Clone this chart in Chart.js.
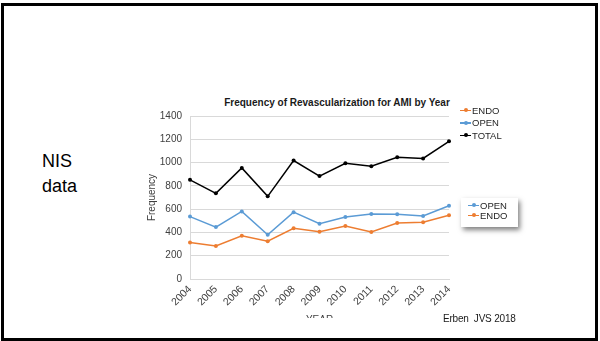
<!DOCTYPE html>
<html><head><meta charset="utf-8">
<script src="https://cdn.jsdelivr.net/npm/chart.js@4"></script>
<style>
html,body{margin:0;padding:0;background:#fff;width:600px;height:341px;overflow:hidden;font-family:"Liberation Sans",Arial,sans-serif;}
#frame{position:absolute;left:1px;top:3px;width:597px;height:338px;border:3px solid #000;box-sizing:border-box;}
#nis{position:absolute;left:42px;top:149px;font-size:18px;line-height:25px;color:#000;}
#title{position:absolute;left:187px;width:300px;top:97px;text-align:center;font-weight:bold;font-size:10px;color:#1a1a1a;white-space:nowrap;}
#wrap{position:absolute;left:100px;top:90px;width:380px;height:228px;overflow:hidden;}
#legend1{position:absolute;left:460px;top:105px;font-size:9.5px;line-height:12.4px;color:#262626;}
#legend2{position:absolute;left:461px;top:198px;width:57px;height:29px;box-sizing:border-box;padding:3px 0 0 7px;background:#fff;box-shadow:2px 3px 5px rgba(0,0,0,0.5);font-size:9.5px;line-height:10px;color:#262626;}
.it{white-space:nowrap;}
.mk{display:inline-block;width:11px;height:1.5px;background:var(--c);vertical-align:middle;position:relative;margin-right:1px;top:-1px;}
.mk::after{content:"";position:absolute;left:3.5px;top:-1.25px;width:4px;height:4px;border-radius:50%;background:var(--c);}
#cite{position:absolute;left:443px;top:313px;font-size:10px;color:#1a1a1a;letter-spacing:-0.2px;white-space:nowrap;}
</style></head>
<body>
<div id="frame"></div>
<div id="nis">NIS<br>data</div>
<div id="title">Frequency of Revascularization for AMI by Year</div>
<div id="wrap"><canvas id="c" width="380" height="250"></canvas></div>
<div id="legend1"></div>
<div id="legend2"></div>
<div id="cite">Erben&nbsp; JVS 2018</div>
<script>
const years = ['2004','2005','2006','2007','2008','2009','2010','2011','2012','2013','2014'];
const endo  = [313, 284, 371, 325, 435, 406, 455, 403, 481, 487, 548];
const open  = [536, 446, 580, 380, 574, 475, 533, 559, 557, 542, 629];
const total = [852, 736, 954, 710, 1017, 884, 994, 968, 1046, 1035, 1183];
const seriesNames = ['ENDO', 'OPEN', 'TOTAL'];
const seriesColors = ['#ED7D31', '#5B9BD5', '#000000'];
const yTicks = [0, 200, 400, 600, 800, 1000, 1200, 1400];

const seriesData = [endo, open, total];
const fam = '"Liberation Sans", Arial, sans-serif';

const datasets = seriesNames.map((n, i) => ({
  label: n,
  data: seriesData[i],
  borderColor: seriesColors[i],
  backgroundColor: seriesColors[i],
  borderWidth: 1.5,
  pointRadius: 2,
  pointBorderWidth: 0,
  tension: 0
}));

new Chart(document.getElementById('c').getContext('2d'), {
  type: 'line',
  data: { labels: years, datasets },
  options: {
    responsive: false,
    animation: false,
    layout: { padding: { left: 0, right: 31, top: 26, bottom: 0 } },
    plugins: { legend: { display: false }, title: { display: false }, tooltip: { enabled: false } },
    scales: {
      x: {
        offset: false,
        grid: { display: false, drawTicks: false },
        border: { color: '#d9d9d9' },
        ticks: { minRotation: 45, maxRotation: 45, autoSkip: false, color: '#404040', font: { size: 10.5, family: fam }, padding: 4 },
        title: { display: true, text: 'YEAR', color: '#404040', font: { size: 10, family: fam }, padding: { top: 0, bottom: 14 } },
        afterFit(s) { s.height = 61; }
      },
      y: {
        min: yTicks[0], max: yTicks[yTicks.length - 1],
        afterBuildTicks(s) { s.ticks = yTicks.map(v => ({ value: v })); },
        ticks: { color: '#404040', font: { size: 10, family: fam }, padding: 8, callback: v => String(v) },
        grid: { color: '#d9d9d9', drawTicks: false },
        border: { color: '#d9d9d9' },
        title: { display: true, text: 'Frequency', color: '#404040', font: { size: 10, family: fam }, padding: { top: 46, bottom: 0 } },
        afterFit(s) { s.width = 90; }
      }
    }
  }
});

function item(i) {
  return '<div class="it"><span class="mk" style="--c:' + seriesColors[i] + '"></span>' + seriesNames[i] + '</div>';
}
document.getElementById('legend1').innerHTML = [0, 1, 2].map(item).join('');
document.getElementById('legend2').innerHTML = [1, 0].map(item).join('');
</script>
</body></html>
